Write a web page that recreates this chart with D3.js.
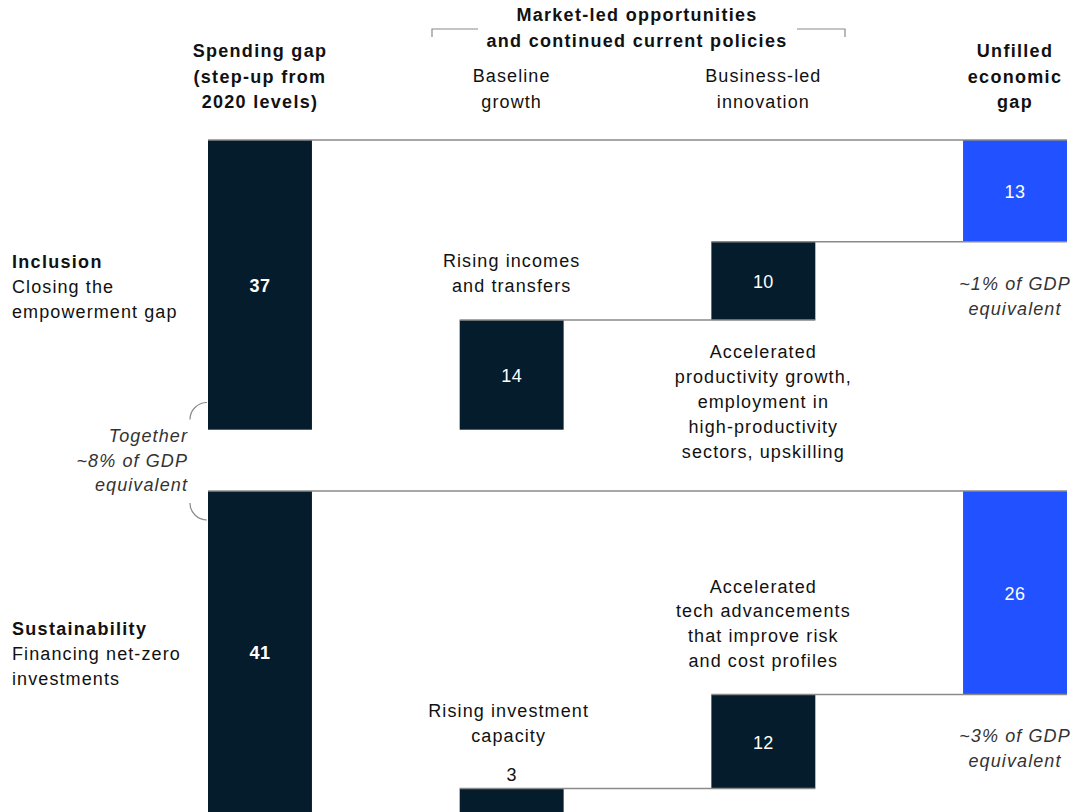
<!DOCTYPE html>
<html>
<head>
<meta charset="utf-8">
<script src="https://cdn.jsdelivr.net/npm/d3@7"></script>
<style>
  body { margin: 0; background: #fff; }
  svg text { font-family: "Liberation Sans", Arial, sans-serif; font-size: 18px; letter-spacing: 1.1px; fill: #111; }
  .bold { font-weight: bold; letter-spacing: 1.3px; }
  .ital { font-style: italic; fill: #333; }
  svg text.val { letter-spacing: 0.4px; }
</style>
</head>
<body>
<script>
// data
const stages = ["Spending gap", "Baseline growth", "Business-led innovation", "Unfilled economic gap"];
const inclusionValues = [37, 14, 10, 13];
const sustainabilityValues = [41, 3, 12, 26];

const stageHeaders = [
  ["Spending gap", "(step-up from", "2020 levels)"],
  ["Baseline", "growth"],
  ["Business-led", "innovation"],
  ["Unfilled", "economic", "gap"]
];
const groupHeader = ["Market-led opportunities", "and continued current policies"];

const panels = [
  { name: "Inclusion", sub: ["Closing the", "empowerment gap"], values: inclusionValues,
    notes: [["Rising incomes", "and transfers"], ["Accelerated", "productivity growth,", "employment in", "high-productivity", "sectors, upskilling"]],
    gdp: ["~1% of GDP", "equivalent"] },
  { name: "Sustainability", sub: ["Financing net-zero", "investments"], values: sustainabilityValues,
    notes: [["Rising investment", "capacity"], ["Accelerated", "tech advancements", "that improve risk", "and cost profiles"]],
    gdp: ["~3% of GDP", "equivalent"] }
];
const togetherNote = ["Together", "~8% of GDP", "equivalent"];

const width = 1087, height = 812;
const dark = "#051c2c", blue = "#2251ff", lineGrey = "#8a8a8a";
const panelTops = [140, 491];

const svg = d3.select("body").append("svg")
  .attr("width", width)
  .attr("height", height);

const x = d3.scaleBand()
  .domain(stages)
  .range([208, 1067])
  .paddingInner(0.587)
  .paddingOuter(0);

const y = d3.scaleLinear()
  .domain([0, 41])
  .range([0, 321]);

// multi-line text helper
function lines(g, arr, px, py, anchor, cls, lh) {
  let t = g.append("text")
    .attr("x", px)
    .attr("y", py)
    .attr("text-anchor", anchor)
    .attr("class", cls || null);
  arr.forEach(function(s, i) {
    t.append("tspan")
      .attr("x", px)
      .attr("y", py + i * (lh || 25))
      .text(s);
  });
  return t;
}

// headers
lines(svg, groupHeader, 637, 21, "middle", "bold", 26);
svg.append("path")
  .attr("d", "M432,37V29H478M797,29H845V37")
  .attr("fill", "none")
  .attr("stroke", lineGrey)
  .attr("stroke-width", 1.2);

stageHeaders.forEach(function(h, i) {
  let cx = x(stages[i]) + x.bandwidth() / 2;
  let bold = (i == 0 || i == 3);
  lines(svg, h, cx, h.length == 3 ? 57 : 82, "middle", bold ? "bold" : null, 25.5);
});

// waterfall segments (value offsets from the panel top line)
function segments(v) {
  return [
    { stage: stages[0], v: v[0], from: 0, to: v[0] },
    { stage: stages[1], v: v[1], from: v[0] - v[1], to: v[0] },
    { stage: stages[2], v: v[2], from: v[0] - v[1] - v[2], to: v[0] - v[1] },
    { stage: stages[3], v: v[3], from: 0, to: v[3] }
  ];
}

panels.forEach(function(p, pi) {
  let top = panelTops[pi];
  let g = svg.append("g").attr("transform", "translate(0," + top + ")");
  let segs = segments(p.values);

  // bars
  g.selectAll("rect")
    .data(segs)
    .enter().append("rect")
    .attr("x", function(d) { return x(d.stage); })
    .attr("y", function(d) { return y(d.from); })
    .attr("width", x.bandwidth())
    .attr("height", function(d) { return y(d.to) - y(d.from); })
    .attr("fill", function(d, i) { return i == 3 ? blue : dark; });

  // connector lines
  let conn = [
    { x1: x(stages[0]), x2: x(stages[3]) + x.bandwidth(), v: 0 },
    { x1: x(stages[1]), x2: x(stages[2]) + x.bandwidth(), v: segs[1].from },
    { x1: x(stages[2]), x2: x(stages[3]) + x.bandwidth(), v: segs[2].from }
  ];
  g.selectAll("line")
    .data(conn)
    .enter().append("line")
    .attr("x1", function(d) { return d.x1; })
    .attr("x2", function(d) { return d.x2; })
    .attr("y1", function(d) { return y(d.v); })
    .attr("y2", function(d) { return y(d.v); })
    .attr("stroke", lineGrey)
    .attr("stroke-width", 1.5);

  // value labels
  g.selectAll(".val")
    .data(segs)
    .enter().append("text")
    .attr("class", function(d, i) { return i == 0 ? "val bold" : "val"; })
    .attr("x", function(d) { return x(d.stage) + x.bandwidth() / 2; })
    .attr("y", function(d) {
      let h = y(d.to) - y(d.from);
      return h < 40 ? y(d.from) - 8 : (y(d.from) + y(d.to)) / 2 + 7;
    })
    .attr("text-anchor", "middle")
    .style("fill", function(d) { return (y(d.to) - y(d.from)) < 40 ? "#111" : "#fff"; })
    .text(function(d) { return d.v; });

  // row label
  let rowMid = (y(0) + y(p.values[0])) / 2;
  lines(g, [p.name], 12, rowMid - 17, "start", "bold");
  lines(g, p.sub, 12, rowMid + 8, "start", null, 25);

  // notes
  let c1 = x(stages[1]) + x.bandwidth() / 2;
  let c2 = x(stages[2]) + x.bandwidth() / 2;
  let c3 = x(stages[3]) + x.bandwidth() / 2;
  if (pi == 0) {
    lines(g, p.notes[0], c1, y(segs[1].from) - 53, "middle", null, 25);
    lines(g, p.notes[1], c2, y(segs[2].to) + 38, "middle", null, 25);
    lines(g, p.gdp, c3, y(segs[3].to) + 48, "middle", "ital", 25);
  } else {
    lines(g, p.notes[0], c1 - 3, y(segs[1].from) - 72, "middle", null, 25);
    lines(g, p.notes[1], c2, y(segs[2].from) - 102, "middle", null, 24.7);
    lines(g, p.gdp, c3, y(segs[3].to) + 47, "middle", "ital", 25);
  }
});

// "Together" brace between the panels
lines(svg, togetherNote, 188, 442, "end", "ital", 24.5);
svg.append("path")
  .attr("d", "M207,402.5A17,17 0 0 0 190,419.5M190,503A17,17 0 0 0 207,520")
  .attr("fill", "none")
  .attr("stroke", lineGrey)
  .attr("stroke-width", 1.2);
</script>
</body>
</html>
